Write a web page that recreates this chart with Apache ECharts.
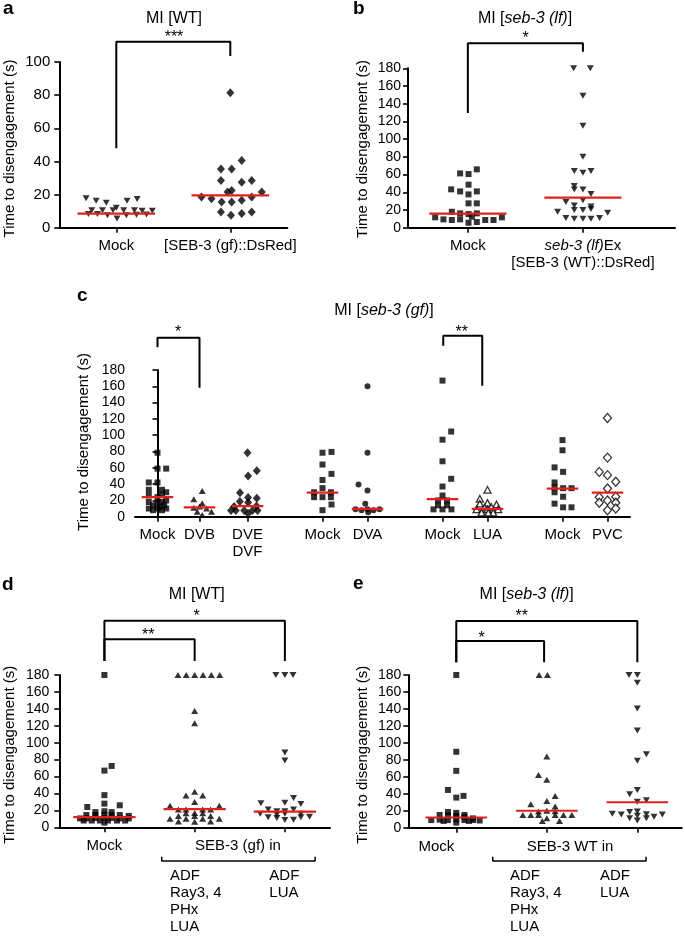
<!DOCTYPE html>
<html><head><meta charset="utf-8">
<script src="https://cdn.jsdelivr.net/npm/echarts@6/dist/echarts.min.js"></script>
<style>html,body{margin:0;padding:0;background:#fff}#c{width:685px;height:936px}</style>
</head><body><div id="c"></div><script>
// ===== DATA (time to disengagement, s) =====
// Panel a: MI [WT]
const aCategories = ['Mock', '[SEB-3 (gf)::DsRed]'];
const aMockTime = [17.7,16.3,15.1,12.1,16.3,17.3,10.5,10.5,10.5,10.5,10.5,10.2,10.2,8.3,8.3,7.5,5.5,7.5,7.8,8.0];
const aMockJitter = [-0.265,-0.177,-0.088,0,0.094,0.183,-0.215,-0.121,-0.029,0.065,0.159,0.227,0.316,-0.245,-0.165,-0.077,0.006,0.088,0.177,0.265];
const aSebTime = [81.5,40.5,35.5,35.5,28.5,27.5,28.5,21.5,22.5,21.5,18.5,17.5,18.5,15.5,15.5,16.5,9.5,9.5,7.5,8.5];
const aSebJitter = [0,0.1,-0.082,0.012,-0.082,0.1,0.188,-0.024,0.012,0.276,-0.253,-0.165,0.188,-0.076,0.012,0.1,-0.082,0.188,0.006,0.1];
const aMedians = [8.5, 19.5];

// Panel b: MI [seb-3 (lf)]
const bMockTime = [65.9,60.6,61.3,43.3,48.6,41,41,37.6,27.5,27.5,18,16.2,15.4,16.2,11.7,9.4,8.7,9.4,5.6,6.4,8.7,8.7,11.7,12.4];
const bMockJitter = [0.078,0.006,-0.067,-0.145,0.006,0.078,-0.067,0.006,0.006,0.078,-0.139,-0.067,0.006,0.078,-0.284,-0.212,-0.139,-0.067,0.006,0.078,0.151,0.223,0.296,0.035];
const bRescueTime = [180,180,149,115,80,64,62,64,47,43,43,38,29,31,25,24,18,20,20,21,17,11,10,10,10,11];
const bRescueJitter = [-0.081,0.064,0,0,0,-0.075,0,0.07,-0.075,-0.075,0,0.07,-0.148,0,-0.075,0.07,-0.22,-0.075,0,0.07,0.215,-0.148,-0.075,0,0.07,0.145];
const bMedians = [16, 34];

// Panel c: MI [seb-3 (gf)]
const cLabels = ['Mock','DVB','DVE\nDVF','Mock','DVA','Mock','LUA','Mock','PVC'];
const cPositions = [0, 2.8, 6, 11, 14, 19, 22, 27, 30];
const cMock1Time = [78.5,59,59,42,42,33,33,30,26,27,24,18,17,18,20,10,10,10,8,8,12,14,14];
const cMock1Jitter = [0,0,0.58,-0.58,0,-0.58,0.3,0.58,-0.58,0.3,0,-0.58,0,0.3,0.58,-0.58,0,0.58,-0.3,0.3,0.15,-0.3,0.45];
const cDvbTime = [31.5,21.5,16.5,11,12.5,10,6,6,2];
const cDvbJitter = [0.18,-0.38,0.18,-0.38,0,0.47,-0.15,0.8,0.18];
const cDveTime = [78.5,56.5,50,29.5,23.5,22.5,18.5,17.5,12.5,13,7.5,7.5,7.5,7.5,7.5,4];
const cDveJitter = [0,0.62,0.04,-0.5,0.04,0.62,-0.51,0.04,-0.89,0.6,-1.1,-0.78,-0.22,0.33,0.67,0.04];
const cMock2Time = [78.5,79.5,64,52.5,45,35,30,30,24,24,24,15,8];
const cMock2Jitter = [0,0.6,0,0.6,0,0,-0.56,0.56,-0.56,0,0.56,0.6,0];
const cDvaTime = [160,78.5,39.5,32,16,9,8,9,8,9,5.5];
const cDvaJitter = [0,0,-0.6,0,-0.15,-0.8,-0.4,0,0.4,0.8,0.05];
const cMock3Time = [167,104.5,94.5,68,46.5,37,26,20,20,14,14,9,9,9];
const cMock3Jitter = [0,0.58,0,0,0.58,0,0,-0.3,0.3,-0.3,0.3,-0.6,0,0.6];
const cLuaTime = [33,22,16,17,15,9,11,9,12,9,5,5,5];
const cLuaJitter = [0,-0.51,-0.51,0,0.6,-0.73,-0.2,0,0.25,0.71,-0.4,0.38,0.05];
const cMock4Time = [94,81.5,60.5,55,42,36,35,35,30,24.5,16,11.5,11.5];
const cMock4Jitter = [0,0,-0.53,0.04,-0.53,-0.53,0.04,0.6,-0.53,0.04,-0.53,0.04,0.6];
const cPvcTime = [121,72.5,55,51,43,34.5,24,24.5,20,17,17,8,10];
const cPvcJitter = [0,0,-0.55,0,0.55,0,-0.55,0.55,0,-0.55,0.55,0,0.55];
const cMedians = [24, 11.5, 13, 29.5, 9.5, 21.5, 9.5, 34.5, 29.5];

// Panel d: MI [WT], SEB-3 (gf) in ...
const dMockTime = [180,67,72.5,38,28,24,26,18,19,18,14.5,14.5,15,14.5,14.5,13.5,10.5,10.5,11,11,11,10.5,10.5,8,8,8,8,8,8,5.5];
const dMockJitter = [0,0,0.08,0,0,-0.19,0.17,-0.1,0,0.08,-0.2,-0.1,0,0.08,0.17,0.27,-0.27,-0.2,-0.1,0,0.08,0.17,0.27,-0.23,-0.14,-0.05,0.04,0.14,0.23,0];
const dFourTime = [180,180,180,180,180,180,137.5,123,42,37.5,37.5,30,25.5,25.5,21,21,21,21,16.5,17,16.5,13.5,13.5,13.5,10,10,10,10,7,6.5,7];
const dFourJitter = [-0.185,-0.093,0,0.093,0.185,0.278,0,0,0,-0.096,0.089,0,-0.273,0.273,-0.18,-0.096,0.089,0.177,-0.096,0,0.089,-0.18,0,0.177,-0.273,-0.096,0.089,0.273,-0.18,0,0.177];
const dTwoTime = [180,180,180,88.5,79,34.5,28.5,29,27.5,21,19,19,21,16,15,16,16,12.5,12,11,8.5,9,12];
const dTwoJitter = [-0.1,0,0.09,0,0,0.096,-0.266,0,0.177,-0.185,-0.089,0,0.096,-0.273,-0.089,0,0.177,0.273,-0.185,-0.089,0,0.096,0.177];
const dMedians = [12, 21.5, 18.5];

// Panel e: MI [seb-3 (lf)], SEB-3 WT in ...
const eMockTime = [180,89.5,67,44.5,35.5,37.5,18.5,17.5,15,14.5,15,14,12.5,11,9,9.5,9,10,9,9,8.5,6,8,8];
const eMockJitter = [0,0,0,-0.092,0,0.08,-0.092,0,-0.184,-0.092,0.09,0,0.09,0.184,-0.276,-0.184,-0.092,0,0.09,0.184,0.258,0,-0.14,0.14];
const eFourTime = [180,180,84,62,56.5,37.5,31.5,27.5,25,19,20,19.5,15,15,15,15,15,15,11,8,8];
const eFourJitter = [-0.085,0.007,0,-0.092,0,0.092,0,-0.177,0.092,-0.092,0,0.092,-0.265,-0.177,-0.092,0.092,0.184,0.276,0,-0.05,0.14];
const eTwoTime = [180,180,171,140.5,114.5,86.5,79,44.5,39.5,30.5,32.5,16.5,15.5,18.5,19,16,13,15.5,11,8.5,11,14];
const eTwoJitter = [-0.092,0,0,0,0,0.1,0,0,-0.085,0,0.1,-0.276,-0.177,-0.085,0,0.1,0.184,0.276,-0.085,0,0.1,0];
const eMedians = [12, 20, 30];

const yTicks100 = [0,20,40,60,80,100];
const yTicks180 = [0,20,40,60,80,100,120,140,160,180];

// ===== BUILD =====
const FONT = 'Liberation Sans, Arial, Helvetica, sans-serif';
const RED = '#e3201b';
const chart = echarts.init(document.getElementById('c'), null, {renderer:'canvas'});

const series = [];
function pts(pos, jit, vals){ return vals.map((v,i)=>[pos+jit[i], v]); }
function scatter(g, pos, jit, vals, shape){
  const s = {type:'scatter', xAxisIndex:g, yAxisIndex:g, data:pts(pos,jit,vals), silent:true, z:3,
    symbol:shape.symbol, symbolSize:shape.size, symbolRotate:shape.rotate||0,
    itemStyle: shape.open ? {color:'#fff', borderColor:'#000', borderWidth:1.3} : {color:'#000'}};
  series.push(s);
}
function median(g, pos, val, hw){
  series.push({type:'line', xAxisIndex:g, yAxisIndex:g, data:[[pos-hw,val],[pos+hw,val]], symbol:'none', silent:true, z:4,
    lineStyle:{color:RED, width:2.2}});
}
function path(g, coords, w){
  series.push({type:'line', xAxisIndex:g, yAxisIndex:g, data:coords, symbol:'none', silent:true, clip:false, z:2,
    lineStyle:{color:'#000', width:w||2}, animation:false});
}
const TRI = {symbol:'triangle', size:[7,6]};
const INV = {symbol:'triangle', size:[7,6], rotate:180};
const SQ = {symbol:'rect', size:6};
const DIA = {symbol:'diamond', size:[8,9]};
const CIR = {symbol:'circle', size:6};
const OTRI = {symbol:'triangle', size:[7,6.5], open:true};
const ODIA = {symbol:'diamond', size:[8,9], open:true};

// a
scatter(0, 1, aMockJitter, aMockTime, INV);
scatter(0, 2, aSebJitter, aSebTime, DIA);
aMedians.forEach((m,i)=>median(0, i+1, m, 0.34));
path(0, [[1,48],[1,112.2],[2,112.2],[2,103.6]]);
// b
scatter(1, 1, bMockJitter, bMockTime, SQ);
scatter(1, 2, bRescueJitter, bRescueTime, INV);
bMedians.forEach((m,i)=>median(1, i+1, m, 0.335));
path(1, [[1,129.5],[1,208.2],[2,208.2],[2,198.7]]);
// c
const cGroups = [[cMock1Jitter,cMock1Time,SQ],[cDvbJitter,cDvbTime,TRI],[cDveJitter,cDveTime,DIA],
  [cMock2Jitter,cMock2Time,SQ],[cDvaJitter,cDvaTime,CIR],[cMock3Jitter,cMock3Time,SQ],
  [cLuaJitter,cLuaTime,OTRI],[cMock4Jitter,cMock4Time,SQ],[cPvcJitter,cPvcTime,ODIA]];
cGroups.forEach((g,i)=>scatter(2, cPositions[i], g[0], g[1], g[2]));
cMedians.forEach((m,i)=>median(2, cPositions[i], m, 1.05));
path(2, [[0,207.8],[0,219.6],[2.8,219.6],[2.8,158.3]]);
path(2, [[19.05,209.8],[19.05,222.1],[21.65,222.1],[21.65,160.7]]);
// d
scatter(3, 1, dMockJitter, dMockTime, SQ);
scatter(3, 2, dFourJitter, dFourTime, TRI);
scatter(3, 3, dTwoJitter, dTwoTime, INV);
dMedians.forEach((m,i)=>median(3, i+1, m, 0.345));
path(3, [[1,196.6],[1,244.2],[3,244.2],[3,196.6]]);
path(3, [[1,196.6],[1,222.2],[2,222.2],[2,196.6]]);
path(3, [[1.635,-34.7],[1.635,-39.8],[3.335,-39.8],[3.335,-34.7]], 1.5);
// e
scatter(4, 1, eMockJitter, eMockTime, SQ);
scatter(4, 2, eFourJitter, eFourTime, TRI);
scatter(4, 3, eTwoJitter, eTwoTime, INV);
eMedians.forEach((m,i)=>median(4, i+1, m, 0.34));
path(4, [[1,195],[1,243.7],[3,243.7],[3,195]]);
path(4, [[1,195],[1,220.2],[1.97,220.2],[1.97,195]]);
path(4, [[1.403,-34.2],[1.403,-39.3],[3.096,-39.3],[3.096,-34.2]], 1.5);

const grids = [
  {left:59.3, top:62, width:228, height:165.7},
  {left:408, top:68.3, width:267, height:159.4},
  {left:135, top:370, width:495, height:146.7},
  {left:59.3, top:675, width:270.7, height:152.3},
  {left:408.3, top:675, width:273.4, height:152.7}
];
function lookup(vals, labels){ return v => { const i = vals.findIndex(p=>Math.abs(p-v)<1e-6); return i<0?'':labels[i]; }; }
function xAxis(g, min, max, tickVals, labelVals, labels, margin){
  return {type:'value', gridIndex:g, min, max, splitLine:{show:false},
    axisLine:{show:true, lineStyle:{color:'#000', width:2}},
    axisTick:{show:true, customValues:tickVals, length:5, lineStyle:{color:'#000', width:1.6}},
    axisLabel:{show:true, customValues:labelVals, formatter:lookup(labelVals, labels), color:'#000', fontSize:15, fontFamily:FONT,
      margin:margin||10, lineHeight:17, rich:{i:{fontStyle:'italic', fontSize:15, fontFamily:FONT, color:'#000', lineHeight:17}}}};
}
function yAxis(g, max, ticks, margin, fs){
  return {type:'value', gridIndex:g, min:0, max, interval:20, splitLine:{show:false},
    axisLine:{show:true, lineStyle:{color:'#000', width:2}},
    axisTick:{show:true, length:5, lineStyle:{color:'#000', width:1.6}},
    axisLabel:{color:'#000', fontSize:fs||14, fontFamily:FONT, margin:margin, customValues:ticks}};
}
const xAxes = [
  xAxis(0, 0.5, 2.5, [1,2], [1,2], aCategories),
  xAxis(1, 0.48, 2.8, [1,2], [1,2], ['Mock', '{i|seb-3 (lf)}Ex\n[SEB-3 (WT)::DsRed]']),
  xAxis(2, -1.5, 31.5, cPositions, cPositions, cLabels),
  xAxis(3, 0.5, 3.5, [1,2,3], [1,2.48], ['Mock','SEB-3 (gf) in']),
  xAxis(4, 0.47, 3.49, [1,2,3], [0.78,2.257], ['Mock','SEB-3 WT in'], 11)
];
const yAxes = [
  yAxis(0, 100, yTicks100, 9, 15),
  yAxis(1, 180, yTicks180, 7),
  yAxis(2, 180, yTicks180, 10),
  yAxis(3, 180, yTicks180, 10),
  yAxis(4, 180, yTicks180, 7)
];

function txt(x, y, text, o){
  o = o || {};
  return {type:'text', x, y, rotation:o.rot||0, silent:true, z:10,
    style:{text, fill:'#000', fontSize:o.fs||15, fontWeight:o.fw||'normal', fontFamily:FONT,
      align:o.align||'center', textAlign:o.align||'center', verticalAlign:o.va||'middle', textVerticalAlign:o.va||'middle',
      lineHeight:o.lh||undefined, rich:{i:{fontStyle:'italic', fontSize:o.fs||15, fontFamily:FONT, fill:'#000'}}}};
}
const YT = 'Time to disengagement (s)';
const graphics = [
  txt(3, 18, 'a', {fs:19, fw:'bold', align:'left', va:'bottom'}),
  txt(353, 18, 'b', {fs:19, fw:'bold', align:'left', va:'bottom'}),
  txt(77, 305, 'c', {fs:19, fw:'bold', align:'left', va:'bottom'}),
  txt(2, 594, 'd', {fs:19, fw:'bold', align:'left', va:'bottom'}),
  txt(353, 593, 'e', {fs:19, fw:'bold', align:'left', va:'bottom'}),
  txt(174, 18.5, 'MI [WT]', {fs:16}),
  txt(525, 18.5, 'MI [{i|seb-3 (lf)}]', {fs:16}),
  txt(384, 311, 'MI [{i|seb-3 (gf)}]', {fs:16}),
  txt(196.7, 594.5, 'MI [WT]', {fs:16}),
  txt(526.7, 595, 'MI [{i|seb-3 (lf)}]', {fs:16}),
  txt(9.5, 148.5, YT, {rot:Math.PI/2}),
  txt(362.5, 149, YT, {rot:Math.PI/2}),
  txt(84, 442, YT, {rot:Math.PI/2}),
  txt(9.5, 754.7, YT, {rot:Math.PI/2}),
  txt(362.5, 754.7, YT, {rot:Math.PI/2}),
  txt(174, 37.5, '***', {fs:16}),
  txt(525.7, 39, '*', {fs:16}),
  txt(178, 332.3, '*', {fs:16}),
  txt(461.7, 332.3, '**', {fs:16}),
  txt(196.7, 616.3, '*', {fs:16}),
  txt(148.3, 635.7, '**', {fs:16}),
  txt(521.7, 616.3, '**', {fs:16}),
  txt(481.7, 638.3, '*', {fs:16}),
  txt(170, 868, 'ADF\nRay3, 4\nPHx\nLUA', {align:'left', va:'top', lh:16.7}),
  txt(269.3, 868, 'ADF\nLUA', {align:'left', va:'top', lh:16.7}),
  txt(510, 868, 'ADF\nRay3, 4\nPHx\nLUA', {align:'left', va:'top', lh:16.7}),
  txt(600, 868, 'ADF\nLUA', {align:'left', va:'top', lh:16.7})
];

chart.setOption({
  animation:false,
  backgroundColor:'#fff',
  textStyle:{fontFamily:FONT},
  grid:grids, xAxis:xAxes, yAxis:yAxes, series, graphic:graphics
});
</script></body></html>
